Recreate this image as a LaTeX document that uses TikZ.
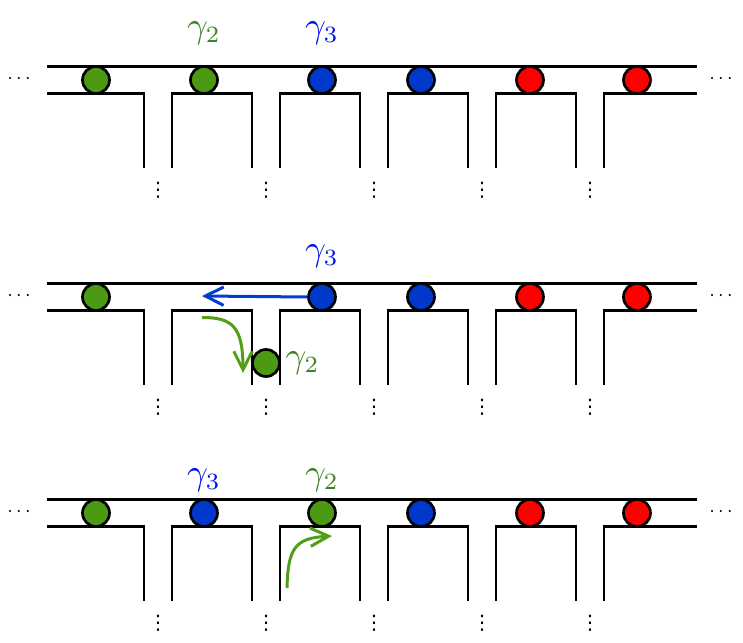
\documentclass[tikz,border=0pt]{standalone}
\usepackage{fontspec}
\usetikzlibrary{arrows.meta}
\newfontfamily\dotsfont{DejaVu Sans}
\definecolor{ballgreen}{RGB}{76,153,19}
\definecolor{ballblue}{RGB}{0,56,204}
\definecolor{ballred}{RGB}{255,0,0}
\definecolor{labgreen}{RGB}{62,130,35}
\definecolor{labblue}{RGB}{0,20,235}
\definecolor{arrgreen}{RGB}{82,158,22}
\definecolor{arrblue}{RGB}{0,60,210}
\begin{document}
\begin{tikzpicture}[x=0.3pt,y=-0.3pt,
  wall/.style={line width=0.8pt,line join=miter},
  ball/.style={circle,draw=black,line width=0.8pt,minimum size=8.1pt,inner sep=0pt},
  gball/.style={ball,fill=ballgreen},
  bball/.style={ball,fill=ballblue},
  rball/.style={ball,fill=ballred},
  glab/.style={text=labgreen,font=\fontsize{10.5}{12}\selectfont,inner sep=0pt},
  blab/.style={text=labblue,font=\fontsize{10.5}{12}\selectfont,inner sep=0pt},
  vdotsnode/.style={inner sep=0pt,font=\dotsfont\fontsize{6}{7}\selectfont},
  hdotsnode/.style={inner sep=0pt,scale=0.6},
  garrow/.style={draw=arrgreen,line width=0.9pt,-{Straight Barb[length=5.5pt,width=5.5pt]}},
  barrow/.style={draw=arrblue,line width=0.9pt,-{Straight Barb[length=5.5pt,width=5.5pt]}}]
\useasboundingbox (0,0) rectangle (743,643);
% channels
\foreach \o/\p in {0/a,217/b,433/c} {
  \draw[wall] (47,66.5+\o) -- (697,66.5+\o);
  \draw[wall] (47,93.5+\o) -- (144,93.5+\o) -- (144,168+\o);
  \foreach \k in {0,...,3} {
    \draw[wall] ({172+108*\k},168+\o) -- ++(0,-74.5) -- ++(80,0) -- ++(0,74.5);
  }
  \draw[wall] (604,168+\o) -- (604,93.5+\o) -- (697,93.5+\o);
  \foreach \k in {0,...,4} {
    \node[vdotsnode] (\p v\k) at ({158+108*\k},190+\o) {⋮};
  }
  \node[hdotsnode] (\p l) at (19,79+\o) {$\cdots$};
  \node[hdotsnode] (\p r) at (721,79+\o) {$\cdots$};
}
% panel 1
\node[gball] (a1) at (96,80) {};
\node[gball] (a2) at (204,80) {};
\node[bball] (a3) at (322,80) {};
\node[bball] (a4) at (421,80) {};
\node[rball] (a5) at (530,80) {};
\node[rball] (a6) at (637,80) {};
\node[glab] (a2lab) at (204,33) {$\gamma_2$};
\node[blab] (a3lab) at (322,33) {$\gamma_3$};
% panel 2
\coordinate (btip) at (202,296);
\coordinate (g2s) at (202,317.5);
\coordinate (g2e) at (243,373);
\node[bball] (b3) at (322,297) {};
\draw[barrow] (b3.west) -- (btip);
\draw[garrow] (g2s) .. controls (232,317.5) and (243,326) .. (g2e);
\node[gball] (b1) at (96,297) {};
\node[bball] (b4) at (421,297) {};
\node[rball] (b5) at (530,297) {};
\node[rball] (b6) at (637,297) {};
\node[gball] (b2) at (266,363) {};
\node[glab,anchor=west] (b2lab) at (285,363) {$\gamma_2$};
\node[blab] (b3lab) at (322,256) {$\gamma_3$};
% panel 3
\node[gball] (c1) at (96,513) {};
\node[bball] (c2) at (204,513) {};
\node[gball] (c3) at (322,513) {};
\node[bball] (c4) at (421,513) {};
\node[rball] (c5) at (530,513) {};
\node[rball] (c6) at (637,513) {};
\node[blab] (c2lab) at (204,480) {$\gamma_3$};
\node[glab] (c3lab) at (322,480) {$\gamma_2$};
\coordinate (g3s) at (287,588);
\coordinate (g3e) at (332,536);
\draw[garrow] (g3s) .. controls (288,548) and (295,538) .. (g3e);
\end{tikzpicture}
\end{document}
